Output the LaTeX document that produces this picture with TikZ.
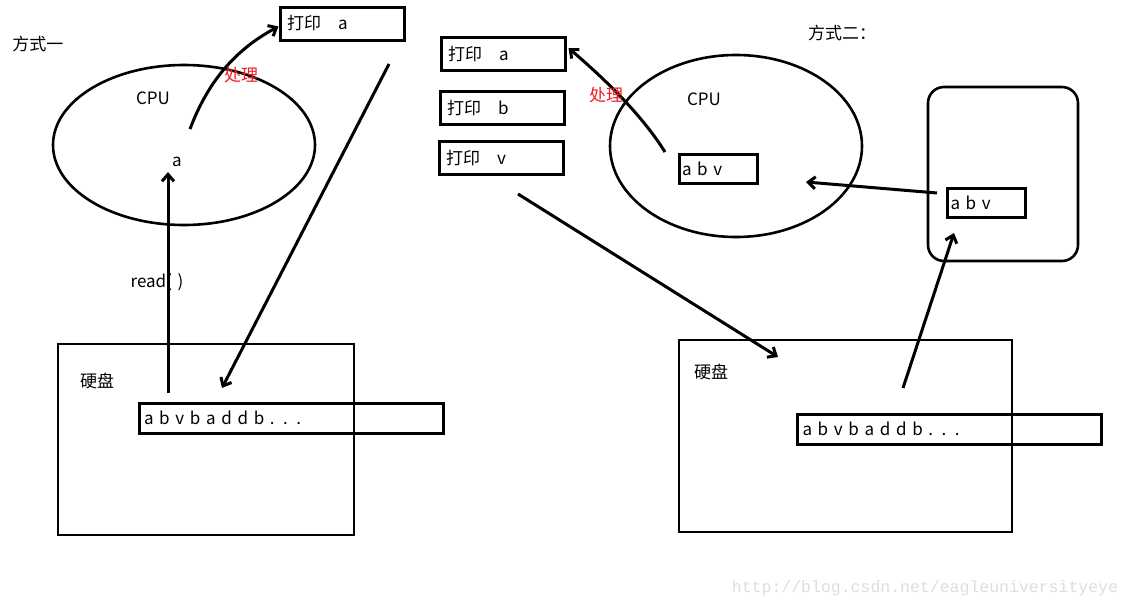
\documentclass[tikz,border=0pt]{standalone}
\usepackage{fontspec}
\setmainfont{Noto Sans CJK SC}
\newfontfamily\wmfont{Liberation Mono}
\usetikzlibrary{shapes.geometric,arrows.meta,positioning}
\definecolor{mark}{RGB}{236,28,36}
\definecolor{wm}{RGB}{222,222,216}
\tikzset{
  txt/.style={font=\fontsize{17}{19}\selectfont,inner sep=0pt},
  cpu/.style={draw,ellipse,line width=2.6pt,inner sep=0pt},
  prt/.style={draw,line width=3pt,minimum height=33pt,text width=110pt,align=left,inner xsep=7pt,inner ysep=0pt,font=\fontsize{17}{19}\selectfont},
  buf/.style={draw,line width=3pt,minimum height=29pt,text width=72pt,align=left,inner xsep=3pt,inner ysep=0pt,font=\fontsize{17}{19}\selectfont},
  strip/.style={draw,line width=3pt,minimum height=30pt,text width=294pt,align=left,inner xsep=5pt,inner ysep=0pt,font=\fontsize{17}{19}\selectfont},
  disk/.style={draw,line width=2.6pt,inner sep=0pt},
  arr/.style={-{Straight Barb[length=7pt,width=12pt]},line width=3pt},
  lbl/.style={txt,text=mark}
}
\begin{document}
\begin{tikzpicture}[x=1pt,y=-1pt]
\useasboundingbox (0,0) rectangle (1130,608);
% way one
\node[txt] (way1) at (38,44) {方式一};
\node[cpu,minimum width=262pt,minimum height=160pt] (cpuA) at (184,145) {};
\node[txt] (cpuAt) at (153,98) {CPU};
\node[txt] (va) at (177,162) {a};
\node[prt] (pa) at (342,23.5) {打印\quad a};
\node[disk,minimum width=296pt,minimum height=191pt] (diskA) at (206,439.5) {};
\node[txt] (diskAt) at (97,381) {硬盘};
\node[strip] (strA) at (291,418) {a b v b a d d b . . .};
\coordinate (rdA) at (168,393);
\coordinate (opA) at (190,129);
\coordinate (wrA) at (389,64);
\coordinate (wrAend) at (222,388);
\draw[arr] (rdA) -- (168,172);
\node[txt] (rdAt) at (157,282) {read(\,\,)};
\draw[arr] (opA) .. controls (203,95) and (225,55) .. ([yshift=-3pt]pa.west);
\node[lbl] (opAt) at (241,75) {处理};
\draw[arr] (wrA) -- (wrAend);
% way two
\node[txt] (way2) at (842,33) {方式二：};
\node[prt] (pb1) at (503,54) {打印\quad a};
\node[prt] (pb2) at (502,108) {打印\quad b};
\node[prt] (pb3) at (501,158) {打印\quad v};
\node[cpu,minimum width=252pt,minimum height=182pt] (cpuB) at (736,146) {};
\node[txt] (cpuBt) at (704,99) {CPU};
\node[buf] (bufB) at (718,168.5) {a b v};
\node[draw,line width=2.6pt,rounded corners=16pt,minimum width=150pt,minimum height=174pt] (mem) at (1003,174) {};
\node[buf] (bufM) at (986.5,202.5) {a b v};
\node[disk,minimum width=333pt,minimum height=192pt] (diskB) at (845.5,436) {};
\node[txt] (diskBt) at (711,372) {硬盘};
\node[strip] (strB) at (949.5,429) {a b v b a d d b . . .};
\coordinate (opB) at (665,152);
\coordinate (ldB) at (937,193);
\coordinate (ldBend) at (806,182);
\coordinate (rdB) at (903,388);
\coordinate (rdBend) at (954,233);
\coordinate (wrB) at (518,194);
\coordinate (wrBend) at (778,357);
\draw[arr] (opB) .. controls (640,112) and (600,75) .. ([xshift=2pt,yshift=6pt]pb1.east);
\node[lbl] (opBt) at (606,95) {处理};
\draw[arr] (ldB) -- (ldBend);
\draw[arr] (rdB) -- (rdBend);
\draw[arr] (wrB) -- (wrBend);
\node[font=\wmfont\fontsize{16.5}{18}\selectfont,text=wm,inner sep=0pt] (wmk) at (925,588) {http://blog.csdn.net/eagleuniversityeye};
\end{tikzpicture}
\end{document}
